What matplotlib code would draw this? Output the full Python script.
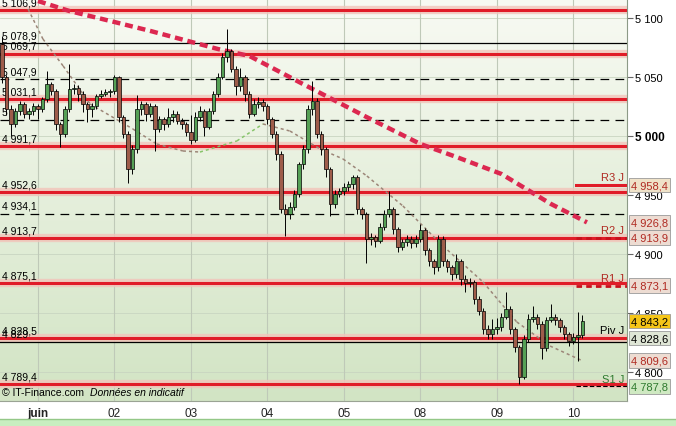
import matplotlib.pyplot as plt
import numpy as np
from matplotlib.colors import LinearSegmentedColormap

plt.rcParams['font.family'] = ['Liberation Sans', 'DejaVu Sans']

# 30-min candles, 29 May (end) .. 10 June
closes = [5050, 5023, 5010, 5021, 5027, 5019, 5021, 5025, 5023, 5031,
          5044, 5038, 5010, 5002, 5023, 5040, 5041, 5036, 5027, 5023,
          5025, 5034, 5036, 5037, 5038, 5050, 5016, 5002, 4972, 4989,
          5023, 5027, 5019, 5025, 5006, 5014, 5010, 5016, 5019, 5013,
          5010, 5003, 4997, 5016, 5021, 5008, 5021, 5036, 5050, 5067,
          5072, 5057, 5042, 5050, 5036, 5019, 5027, 5029, 5025, 5014,
          5002, 4985, 4938, 4934, 4940, 4951, 4976, 4989, 5023, 5030,
          5002, 4989, 4972, 4942, 4951, 4953, 4957, 4959, 4965, 4938,
          4934, 4913, 4914, 4911, 4923, 4934, 4938, 4921, 4906, 4910,
          4913, 4909, 4913, 4920, 4903, 4894, 4889, 4913, 4894, 4889,
          4883, 4894, 4879, 4875, 4876, 4862, 4852, 4836, 4832, 4836,
          4838, 4847, 4853, 4836, 4821, 4796, 4828, 4845, 4847, 4841,
          4820, 4844, 4847, 4844, 4838, 4832, 4826, 4830, 4831, 4843.2]
highs = [5085, 5052, 5026, 5024, 5030, 5029, 5024, 5028, 5027, 5033,
         5055, 5046, 5040, 5012, 5025, 5061, 5044, 5043, 5038, 5029,
         5028, 5036, 5039, 5040, 5040, 5052, 5051, 5018, 5004, 4992,
         5035, 5030, 5029, 5028, 5027, 5017, 5016, 5024, 5022, 5021,
         5015, 5012, 5018, 5020, 5025, 5023, 5024, 5038, 5053, 5070,
         5091, 5074, 5059, 5058, 5052, 5038, 5031, 5033, 5031, 5027,
         5016, 5004, 4987, 4942, 4944, 4954, 4978, 4992, 5026, 5047,
         5032, 5004, 4991, 4974, 4954, 4956, 4960, 4962, 4967, 4967,
         4940, 4936, 4918, 4916, 4926, 4937, 4953, 4940, 4923, 4913,
         4916, 4915, 4916, 4925, 4922, 4905, 4896, 4916, 4915, 4896,
         4891, 4900, 4896, 4882, 4880, 4878, 4864, 4854, 4840, 4845,
         4846, 4850, 4868, 4856, 4838, 4823, 4831, 4849, 4856, 4849,
         4843, 4847, 4858, 4849, 4846, 4840, 4834, 4833, 4851, 4848]
lows = [5045, 5018, 5000, 5008, 5018, 5015, 5014, 5018, 5014, 5020,
        5029, 5035, 5005, 4991, 4999, 5020, 5036, 5030, 5020, 5012,
        5016, 5023, 5032, 5034, 5033, 5036, 5012, 4998, 4960, 4968,
        4986, 5018, 5013, 5016, 4987, 5003, 5005, 5008, 5012, 5010,
        5006, 5000, 4993, 4995, 5013, 5000, 5006, 5019, 5033, 5048,
        5063, 5054, 5035, 5038, 5030, 5015, 5017, 5024, 5021, 5010,
        4998, 4980, 4935, 4915, 4930, 4937, 4948, 4972, 4986, 5018,
        4998, 4984, 4965, 4932, 4939, 4948, 4950, 4953, 4955, 4934,
        4930, 4892, 4908, 4906, 4909, 4920, 4931, 4917, 4902, 4903,
        4907, 4905, 4906, 4910, 4899, 4890, 4883, 4886, 4890, 4885,
        4878, 4880, 4874, 4868, 4872, 4858, 4848, 4832, 4828, 4828,
        4832, 4835, 4845, 4832, 4817, 4790, 4794, 4825, 4842, 4836,
        4811, 4818, 4842, 4840, 4834, 4828, 4822, 4824, 4809.6, 4829]
first_open = 5078
opens = [first_open] + closes[:-1]

day_labels = ['juin', '02', '03', '04', '05', '08', '09', '10']
day_start = [8, 25, 42, 59, 76, 93, 110, 127]

red_levels = [5106.9, 5069.7, 5031.1, 4991.7, 4952.6, 4913.7, 4875.1, 4828.5, 4789.4]
red_labels = ['5 106,9', '5 069,7', '5 031,1', '4 991,7', '4 952,6', '4 913,7', '4 875,1', '4 828,5', '4 789,4']
black_solid = [5078.9, 4825.5]
black_solid_labels = ['5 078,9', '4 829']
black_dashed = [5047.9, 5013.6, 4934.1]
black_dashed_labels = ['5 047,9', '5', '4 934,1']

pivot_names = ['R3 J', 'R2 J', 'R1 J', 'Piv J', 'S1 J']
pivot_values = [4958.4, 4913.9, 4873.1, 4828.6, 4787.8]
pivot_colors = ['#b02a22', '#b02a22', '#b02a22', '#000000', '#2f7a2f']

ma_slow_idx = [8, 15, 25, 33, 48, 55, 66, 81, 93, 101, 111, 122, 130]
ma_slow_val = [5114.4, 5105.9, 5096.6, 5089.0, 5073.7, 5067.8, 5045.8,
               5016.1, 4993.2, 4982.2, 4967.8, 4942.4, 4926.8]
ma_fast_idx = [5.8, 9.1, 13.6, 19.6, 29.1, 34.4, 40.2, 44, 52.2, 58, 64,
               70.7, 75.8, 81.1, 89.1, 98, 106.9, 114.4, 121.8, 129.1]
ma_fast_val = [5107.6, 5082.2, 5059.3, 5027.1, 5005.9, 4993.2, 4987.3, 4986.4,
               4995.8, 5010.2, 5004.2, 4989.0, 4980.5, 4966.1, 4940.7, 4906.8,
               4876.3, 4842.4, 4822.0, 4809.3]

box_values = [4958.4, 4926.8, 4913.9, 4873.1, 4843.2, 4828.6, 4809.6, 4787.8]
box_text = ['#b02a22', '#b02a22', '#b02a22', '#b02a22', '#000000', '#000000', '#b02a22', '#2f7a2f']
box_bg = ['#efe2c8', '#eddcd2', '#eddcd2', '#eddcd2', '#f5c518', '#dfe6d6', '#eddcd2', '#cfe9c2']


def fr(v):
    return f"{v:,.1f}".replace(',', ' ').replace('.', ',')


fig = plt.figure(figsize=(6.76, 4.27), dpi=100)
fig.patch.set_facecolor('white')
ax = fig.add_axes([0, 25 / 427, 627 / 676, 402 / 427])
x0, x1 = -0.44, 138.9
y0, y1 = 4775.4, 5116.1
ax.set_xlim(x0, x1)
ax.set_ylim(y0, y1)

# background gradient, light on top, green at the bottom
grad = np.linspace(0, 1, 256).reshape(-1, 1)
cm = LinearSegmentedColormap.from_list('bg', ['#f8faf3', '#d2e4c4'])
ax.imshow(grad, extent=[x0, x1, y0, y1], aspect='auto', cmap=cm, zorder=0)

for t in [4800, 4850, 4900, 4950, 5000, 5050, 5100]:
    ax.axhline(t, color='#c9d5c1', lw=0.6, zorder=0.5)
for d in day_start:
    ax.axvline(d, color='#bfc9b8', lw=0.8, zorder=0.5)

for v, lab in zip(red_levels, red_labels):
    ax.axhline(v, color='#f2c4ba', lw=6, alpha=0.8, zorder=1)
    ax.axhline(v, color='#e01c28', lw=2.2, zorder=1.5)
    ax.annotate(lab, xy=(0.003, v), xycoords=ax.get_yaxis_transform(), xytext=(0, 2),
                textcoords='offset points', fontsize=7.5, va='bottom', zorder=2)
for v, lab in zip(black_solid, black_solid_labels):
    ax.axhline(v, color='black', lw=0.9, zorder=1.4)
    ax.annotate(lab, xy=(0.003, v), xycoords=ax.get_yaxis_transform(), xytext=(0, 2),
                textcoords='offset points', fontsize=7.5, va='bottom', zorder=2)
for v, lab in zip(black_dashed, black_dashed_labels):
    ax.axhline(v, color='black', lw=0.9, ls=(0, (7, 5)), zorder=1.4)
    ax.annotate(lab, xy=(0.003, v), xycoords=ax.get_yaxis_transform(), xytext=(0, 2),
                textcoords='offset points', fontsize=7.5, va='bottom', zorder=2)

# pivot levels of the day
pstart = day_start[-1] + 0.5
for name, v, col in zip(pivot_names, pivot_values, pivot_colors):
    if name == 'R3 J':
        ax.plot([pstart, x1], [v, v], color='#e01c28', lw=2.2, zorder=1.6)
    elif name in ('R2 J', 'R1 J'):
        ax.plot([pstart, x1], [v, v], color='#c8101c', lw=2.0, ls=(0, (2, 1.5)), zorder=1.6)
    elif name == 'S1 J':
        ax.plot([pstart, x1], [v, v], color='black', lw=0.8, ls=(0, (4, 2)), zorder=1.6)
    ax.annotate(name, xy=(0.996, v), xycoords=ax.get_yaxis_transform(), xytext=(0, 2),
                textcoords='offset points', fontsize=8, ha='right', va='bottom', color=col, zorder=2)

# moving averages
ax.plot(ma_slow_idx, ma_slow_val, color='#dc2850', lw=3.2, ls=(0, (1.8, 1.1)), zorder=3)
for k in range(len(ma_fast_idx) - 1):
    rising = ma_fast_val[k + 1] > ma_fast_val[k]
    ax.plot(ma_fast_idx[k:k + 2], ma_fast_val[k:k + 2], color='#86c46a' if rising else '#9c8678',
            lw=1.1, ls=(0, (2, 2)), zorder=3)

# candles
idx = np.arange(len(closes))
o = np.array(opens, float)
c = np.array(closes, float)
ax.vlines(idx, lows, highs, color='black', lw=0.7, zorder=4)
up = c >= o
cols = np.where(up, '#55a055', '#9e5c4a')
ax.bar(idx, np.maximum(np.abs(c - o), 0.6), bottom=np.minimum(o, c), width=0.7,
       color=cols, edgecolor='black', linewidth=0.5, zorder=5)

# axes styling
for s in ['top', 'left']:
    ax.spines[s].set_visible(False)
ax.spines['right'].set_color('#8c9a86')
ax.spines['bottom'].set_color('#9aa394')
ax.yaxis.tick_right()
ax.set_yticks([4800, 4850, 4900, 4950, 5000, 5050, 5100])
ax.set_yticklabels([f"{t:,}".replace(',', ' ') for t in [4800, 4850, 4900, 4950, 5000, 5050, 5100]])
ax.tick_params(axis='y', length=4, color='#666666', labelsize=8, pad=2)
for lab in ax.get_yticklabels():
    if lab.get_text() == '5 000':
        lab.set_fontweight('bold')
        lab.set_fontsize(8.5)
ax.set_xticks(day_start)
ax.set_xticklabels(day_labels)
ax.tick_params(axis='x', length=0, labelsize=8.5, pad=4, colors='#222222')
ax.get_xticklabels()[0].set_fontweight('bold')

for v, tc, bg in zip(box_values, box_text, box_bg):
    ax.text(1.006, v, fr(v), transform=ax.get_yaxis_transform(), ha='left', va='center',
            fontsize=8, color=tc, zorder=6, clip_on=False,
            bbox=dict(boxstyle='square,pad=0.2', fc=bg, ec='#9a9a9a', lw=0.6))

ax.text(2 / 627, 0.022, '© IT-Finance.com', transform=ax.transAxes, fontsize=7.5, va='center', zorder=6)
ax.text(90 / 627, 0.022, 'Données en indicatif', transform=ax.transAxes, fontsize=7.5,
        style='italic', va='center', zorder=6)

# green strip at the bottom
fig.patches.append(plt.Rectangle((0, 0), 1, 7 / 427, transform=fig.transFigure,
                                 fc='#c8eec0', ec='none'))
fig.lines.append(plt.Line2D([0, 1], [7 / 427, 7 / 427], transform=fig.transFigure,
                            color='#94c888', lw=1))

fig.savefig('out.png', dpi=100)
